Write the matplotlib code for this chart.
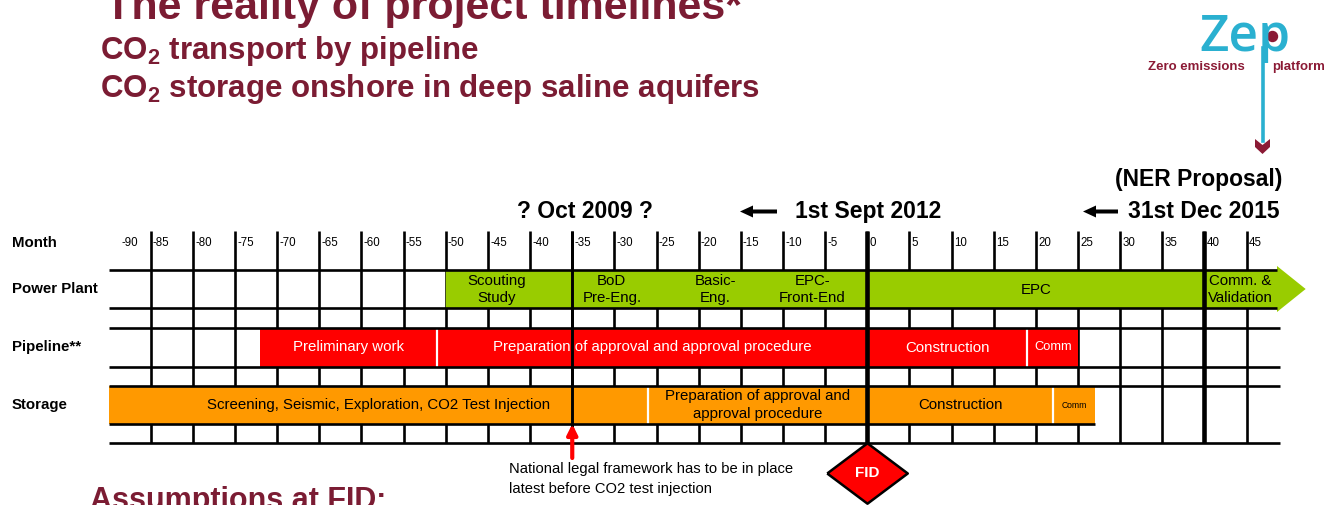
import matplotlib
matplotlib.use("Agg")
import matplotlib.pyplot as plt
from matplotlib.patches import FancyArrow, Circle, Polygon

plt.rcParams['font.family'] = ['Liberation Sans', 'DejaVu Sans']
plt.rcParams['mathtext.fontset'] = 'custom'
plt.rcParams['mathtext.rm'] = 'Liberation Sans:bold'
plt.rcParams['mathtext.it'] = 'Liberation Sans:bold'
plt.rcParams['mathtext.bf'] = 'Liberation Sans:bold'

# ---------------- data ----------------
month_ticks = [-90, -85, -80, -75, -70, -65, -60, -55, -50, -45, -40, -35, -30,
               -25, -20, -15, -10, -5, 0, 5, 10, 15, 20, 25, 30, 35, 40, 45]
month_labels = ['-90', '-85', '-80', '-75', '-70', '-65', '-60', '-55', '-50',
                '-45', '-40', '-35', '-30', '-25', '-20', '-15', '-10', '-5',
                '0', '5', '10', '15', '20', '25', '30', '35', '40', '45']
grid_start = -90
grid_end = 49

row_names = ['Power Plant', 'Pipeline**', 'Storage']

pp_start = -50
pp_body_end = 48.6
pp_tip = 52
pp_labels = ['Scouting\nStudy', 'BoD\nPre-Eng.', 'Basic-\nEng.', 'EPC-\nFront-End',
             'EPC', 'Comm. &\nValidation']
pp_label_months = [-44, -30.3, -18, -6.5, 20, 44.2]

pipe_starts = [-72, -51, 0, 19]
pipe_ends = [-51, 0, 19, 25]
pipe_labels = ['Preliminary work', 'Preparation of approval and approval procedure',
               'Construction', 'Comm']

stor_starts = [-90, -26, 0, 22]
stor_ends = [-26, 0, 22, 27]
stor_labels = ['Screening, Seismic, Exploration, CO2 Test Injection',
               'Preparation of approval and\napproval procedure', 'Construction', 'Comm']

milestone_thin = [-35]
milestone_thick = [0, 40]
fid_month = 0
legal_month = -35

# ---------------- styling / layout ----------------
GREEN = '#99CC00'
RED = '#FF0000'
ORANGE = '#FF9900'
DARKRED = '#7B1C33'
LOGORED = '#8B1A35'
CYAN = '#2AB0D0'

W, H = 1326, 505
PX_PER_MONTH = 8.43
ZERO_PX = 867.3

HEADER_TOP = 231
PP_TOP, PP_BOT = 270, 308
PI_TOP, PI_BOT = 328, 367
ST_TOP, ST_BOT = 386, 424
GRID_BOT = 443
LW = 1.9


def ls_for(fs, px):
    """line spacing so that two lines are `px` pixels apart"""
    return px / (0.94 * fs * 100 / 72)


fig = plt.figure(figsize=(W / 100, H / 100), dpi=100)
ax = fig.add_axes([0, 0, 1, 1])
ax.set_xlim(-ZERO_PX / PX_PER_MONTH, (W - ZERO_PX) / PX_PER_MONTH)
ax.set_ylim(H, 0)
ax.axis('off')

ax2 = fig.add_axes([0, 0, 1, 1])
ax2.set_xlim(0, W)
ax2.set_ylim(H, 0)
ax2.axis('off')
ax2.patch.set_alpha(0)

# grid verticals (below bars)
inner = [t for t in month_ticks if t > grid_start]
ax.vlines(inner, HEADER_TOP, GRID_BOT, color='black', lw=LW, zorder=1)

# month labels
for t, lab in zip(month_ticks, month_labels):
    off = 0.25 if t > grid_start else 1.5
    ax.text(t + off, 243, lab, fontsize=8.3, ha='left', va='center', zorder=6)

# power plant arrow bar
ax.fill([pp_start, pp_body_end, pp_body_end, pp_tip, pp_body_end, pp_body_end, pp_start],
        [PP_TOP, PP_TOP, 266, (PP_TOP + PP_BOT) / 2, 312, PP_BOT, PP_BOT],
        color=GREEN, lw=0, zorder=2)

pi_c = (PI_TOP + PI_BOT) / 2
ax.barh(pi_c, [e - s for s, e in zip(pipe_starts, pipe_ends)], left=pipe_starts,
        height=PI_BOT - PI_TOP, color=RED, lw=0, zorder=2)
st_c = (ST_TOP + ST_BOT) / 2
ax.barh(st_c, [e - s for s, e in zip(stor_starts, stor_ends)], left=stor_starts,
        height=ST_BOT - ST_TOP, color=ORANGE, lw=0, zorder=2)

ax.vlines([pipe_starts[1], pipe_starts[3]], PI_TOP, PI_BOT, color='white', lw=1.6, zorder=3)
ax.vlines([stor_starts[1], stor_starts[3]], ST_TOP, ST_BOT, color='white', lw=1.6, zorder=3)

ax.hlines([PP_TOP, PP_BOT], grid_start, pp_body_end, color='black', lw=LW, zorder=4)
ax.hlines([PI_TOP, PI_BOT, ST_TOP, GRID_BOT], grid_start, grid_end, color='black', lw=LW, zorder=4)
ax.hlines([ST_BOT], grid_start, stor_ends[-1], color='black', lw=LW, zorder=4)

ax.vlines(milestone_thin, HEADER_TOP, GRID_BOT, color='black', lw=2.1, zorder=5)
ax.vlines(milestone_thick, HEADER_TOP, GRID_BOT, color='black', lw=3.3, zorder=5)

# bar labels
BFS = 10.8
pp_c = (PP_TOP + PP_BOT) / 2
for m, lab in zip(pp_label_months, pp_labels):
    ax.text(m, pp_c + 0.5, lab, fontsize=BFS, ha='center', va='center',
            linespacing=ls_for(BFS, 18.5), zorder=6)
pipe_sizes = [BFS, BFS, BFS, 9.3]
for s, e, lab, fs in zip(pipe_starts, pipe_ends, pipe_labels, pipe_sizes):
    ax.text((s + e) / 2, pi_c, lab, fontsize=fs, color='white', ha='center',
            va='center', zorder=6)
stor_sizes = [BFS, BFS, BFS, 6.2]
for s, e, lab, fs in zip(stor_starts, stor_ends, stor_labels, stor_sizes):
    ax.text((s + e) / 2, st_c, lab, fontsize=fs, color='black', ha='center',
            va='center', linespacing=ls_for(fs, 18), zorder=6)

# row labels
ax2.text(12, 243, 'Month', fontsize=10.8, fontweight='bold', va='center')
for y, name in zip([pp_c, pi_c, st_c], row_names):
    ax2.text(12, y, name, fontsize=10.8, fontweight='bold', va='center')

# FID diamond
diamond = [(-1, 0), (0, 0.75), (1, 0), (0, -0.75), (-1, 0)]
ax.scatter([fid_month], [473], marker=diamond, s=58 ** 2, color=RED,
           edgecolor='black', lw=1.8, zorder=7, clip_on=False)
ax.text(fid_month, 473, 'FID', color='white', fontsize=11,
        fontweight='bold', ha='center', va='center', zorder=8)

# legal framework arrow
ax.annotate('', xy=(legal_month, GRID_BOT - 19), xytext=(legal_month, 458),
            arrowprops=dict(arrowstyle='-|>,head_width=0.25,head_length=0.5',
                            color=RED, lw=3.0, shrinkA=0, shrinkB=0,
                            mutation_scale=12), zorder=7)
ax2.text(509, 469, 'National legal framework has to be in place',
         fontsize=10.6, ha='left', va='center')
ax2.text(509, 489, 'latest before CO2 test injection',
         fontsize=10.6, ha='left', va='center')

# header annotations
HFS = 16.5
ax2.text(585, 218, '? Oct 2009 ?', fontsize=HFS, fontweight='bold', ha='center', va='baseline')
ax2.text(795, 218, '1st Sept 2012', fontsize=HFS, fontweight='bold', ha='left', va='baseline')
ax2.add_patch(FancyArrow(777, 211.5, -37, 0, width=4, head_width=12, head_length=13,
                         length_includes_head=True, color='black', lw=0))
ax2.text(1128, 218, '31st Dec 2015', fontsize=HFS, fontweight='bold', ha='left', va='baseline')
ax2.add_patch(FancyArrow(1118, 211.5, -35, 0, width=4, head_width=12, head_length=13,
                         length_includes_head=True, color='black', lw=0))
ax2.text(1282, 186, '(NER Proposal)', fontsize=HFS, fontweight='bold', ha='right', va='baseline')

# titles
ax2.text(105, 19, 'The reality of project timelines*', fontsize=31, fontweight='bold',
         color=DARKRED, va='baseline')
ax2.text(100, 59, 'CO$_2$ transport by pipeline', fontsize=22.5, fontweight='bold',
         color=DARKRED, va='baseline')
ax2.text(100, 97, 'CO$_2$ storage onshore in deep saline aquifers', fontsize=22.5,
         fontweight='bold', color=DARKRED, va='baseline')
ax2.text(90, 509, 'Assumptions at FID:', fontsize=22, fontweight='bold', color=DARKRED,
         va='baseline')

# logo
ax2.text(1199, 51, 'Zep', fontsize=37, color=CYAN, family='Open Sans', fontweight='semibold',
         va='baseline')
ax2.plot([1262.5, 1262.5], [48, 141], color=CYAN, lw=2.6)
ax2.add_patch(Circle((1272.5, 36.5), 5.0, color=LOGORED))
ax2.add_patch(Polygon([(1255, 139), (1262.5, 145), (1270, 139), (1270, 147), (1262.5, 154),
                       (1255, 147)], closed=True, color=LOGORED, lw=0))
ax2.text(1148, 67, 'Zero emissions', fontsize=9.5, fontweight='bold', color=LOGORED,
         va='center')
ax2.text(1272, 67, 'platform', fontsize=9.5, fontweight='bold', color=LOGORED,
         va='center')

fig.savefig('out.png', dpi=100)
